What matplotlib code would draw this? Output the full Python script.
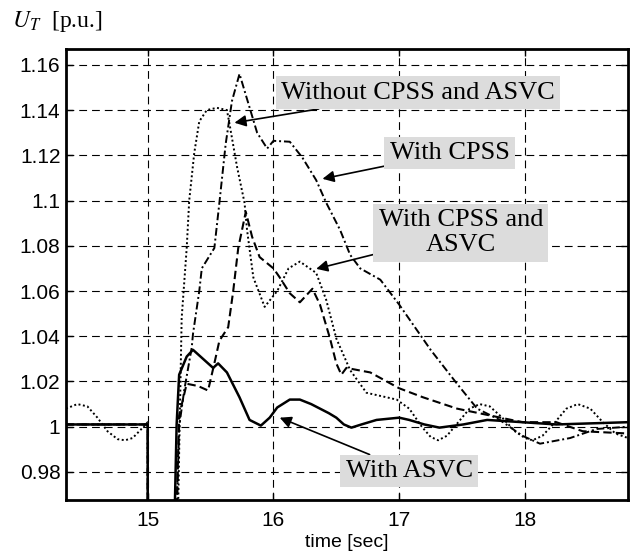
import matplotlib
matplotlib.use('Agg')
import matplotlib.pyplot as plt

plt.rcParams['font.family'] = 'Liberation Sans'
plt.rcParams['mathtext.fontset'] = 'stix'

# Curve data (time in s, voltage in p.u.)
t_asvc = [14.35, 15.0, 15.0, 15.19, 15.23, 15.25, 15.31, 15.36, 15.40, 15.52, 15.56, 15.63,
          15.73, 15.81, 15.90, 15.97, 16.03, 16.13, 16.21, 16.30, 16.37, 16.44, 16.50, 16.56,
          16.62, 16.70, 16.82, 17.0, 17.08, 17.20, 17.32, 17.51, 17.70, 17.98, 18.25, 18.82]
u_asvc = [1.001, 1.001, 0.9, 0.9, 1.001, 1.023, 1.031, 1.034, 1.032, 1.026, 1.028, 1.024,
          1.013, 1.003, 1.0005, 1.004, 1.0085, 1.012, 1.012, 1.010, 1.008, 1.006, 1.004, 1.001,
          0.9996, 1.001, 1.003, 1.004, 1.003, 1.001, 0.9996, 1.001, 1.003, 1.002, 1.001, 1.002]

t_dot = [14.35, 14.44, 14.52, 14.60, 14.68, 14.76, 14.82, 14.88, 14.95, 15.0, 15.0, 15.22,
         15.27, 15.31, 15.33, 15.37, 15.41, 15.47, 15.55, 15.63, 15.65, 15.71, 15.77, 15.79,
         15.84, 15.93, 16.03, 16.12, 16.21, 16.34, 16.42, 16.50, 16.61, 16.74, 16.98, 17.08,
         17.18, 17.25, 17.31, 17.38, 17.47, 17.56, 17.64, 17.72, 17.82, 17.92, 18.0, 18.06,
         18.14, 18.24, 18.33, 18.42, 18.52, 18.62, 18.72, 18.82]
u_dot = [1.008, 1.010, 1.009, 1.004, 0.998, 0.9945, 0.994, 0.995, 0.999, 1.002, 0.9, 0.9,
         1.048, 1.079, 1.100, 1.121, 1.135, 1.140, 1.141, 1.140, 1.134, 1.115, 1.099, 1.087,
         1.066, 1.053, 1.060, 1.070, 1.073, 1.068, 1.056, 1.039, 1.025, 1.015, 1.012, 1.008,
         1.000, 0.9955, 0.994, 0.996, 1.002, 1.008, 1.010, 1.009, 1.004, 0.998, 0.995, 0.994,
         0.996, 1.002, 1.008, 1.010, 1.008, 1.002, 0.997, 0.995]

t_dd = [14.35, 15.0, 15.0, 15.2, 15.25, 15.29, 15.35, 15.36, 15.41, 15.43, 15.53, 15.57,
        15.62, 15.67, 15.73, 15.80, 15.87, 15.95, 16.0, 16.13, 16.23, 16.34, 16.42, 16.53,
        16.61, 16.69, 16.85, 17.0, 17.25, 17.46, 17.62, 17.8, 17.98, 18.12, 18.36, 18.57, 18.82]
u_dd = [1.001, 1.001, 0.9, 0.9, 1.0, 1.016, 1.035, 1.041, 1.060, 1.070, 1.079, 1.099,
        1.125, 1.144, 1.156, 1.143, 1.130, 1.123, 1.1264, 1.126, 1.119, 1.109, 1.099, 1.087,
        1.076, 1.070, 1.065, 1.054, 1.034, 1.019, 1.008, 1.003, 0.996, 0.9925, 0.995, 0.999, 1.0]

t_dash = [14.35, 15.0, 15.0, 15.2, 15.25, 15.31, 15.40, 15.48, 15.53, 15.57, 15.64, 15.68,
          15.72, 15.78, 15.83, 15.89, 16.0, 16.05, 16.13, 16.21, 16.31, 16.37, 16.45, 16.50,
          16.54, 16.58, 16.77, 17.0, 17.19, 17.46, 17.72, 17.98, 18.25, 18.46, 18.82]
u_dash = [1.001, 1.001, 0.9, 0.9, 1.005, 1.019, 1.018, 1.016, 1.028, 1.038, 1.044, 1.060,
          1.079, 1.095, 1.084, 1.075, 1.070, 1.066, 1.059, 1.055, 1.061, 1.054, 1.039, 1.028,
          1.023, 1.026, 1.024, 1.017, 1.013, 1.008, 1.005, 1.002, 1.002, 0.998, 0.997]

xticks = [15, 16, 17, 18]
yticks = [0.98, 1.0, 1.02, 1.04, 1.06, 1.08, 1.1, 1.12, 1.14, 1.16]
ytick_labels = ['0.98', '1', '1.02', '1.04', '1.06', '1.08', '1.1', '1.12', '1.14', '1.16']

fig = plt.figure(figsize=(6.34, 5.56), dpi=100)
ax = fig.add_axes([66/634, 1 - 500/556, 562/634, 451/556])

ax.plot(t_dot, u_dot, color='k', lw=1.4, ls=(0, (1, 1.3)))
ax.plot(t_dd, u_dd, color='k', lw=1.4, ls=(0, (4, 1.5, 1, 1.5)))
ax.plot(t_dash, u_dash, color='k', lw=1.5, ls=(0, (4, 2)))
ax.plot(t_asvc, u_asvc, color='k', lw=1.8, zorder=5)

ax.set_xlim(14.35, 18.82)
ax.set_ylim(0.9676, 1.167)
ax.set_xticks(xticks)
ax.set_yticks(yticks)
ax.set_yticklabels(ytick_labels)
ax.tick_params(direction='in', top=True, right=True, length=5, width=1, labelsize=15)
ax.tick_params(axis='x', pad=8)
ax.tick_params(axis='y', pad=4)
ax.grid(True, color='k', lw=0.8, ls=(0, (7, 4.5)))
for s in ax.spines.values():
    s.set_linewidth(2)

ax.set_xlabel('time [sec]', fontsize=14, labelpad=3)
fig.text(12/634, 1 - 22/556, r'$U_T$  [p.u.]', fontsize=17, family='Liberation Serif',
         va='center', ha='left')

box = dict(boxstyle='square,pad=0.2', fc='#dcdcdc', ec='none')
arrow = dict(arrowstyle='-|>', color='k', lw=1.2, mutation_scale=17, shrinkA=0, shrinkB=0)
font = dict(fontsize=19, family='Liberation Serif', ha='center', va='center', bbox=box)

ax.annotate('Without CPSS and ASVC', xy=(15.69, 1.1344), xytext=(17.15, 1.1477),
            arrowprops=arrow, **font)
ax.annotate('With CPSS', xy=(16.39, 1.1096), xytext=(17.40, 1.1211),
            arrowprops=arrow, **font)
ax.annotate('With CPSS and\nASVC', xy=(16.34, 1.0698), xytext=(17.49, 1.0858),
            arrowprops=arrow, linespacing=1.2, **font)
ax.annotate('With ASVC', xy=(16.05, 1.004), xytext=(17.08, 0.9805),
            arrowprops=arrow, **font)

fig.savefig('out.png', dpi=100)
